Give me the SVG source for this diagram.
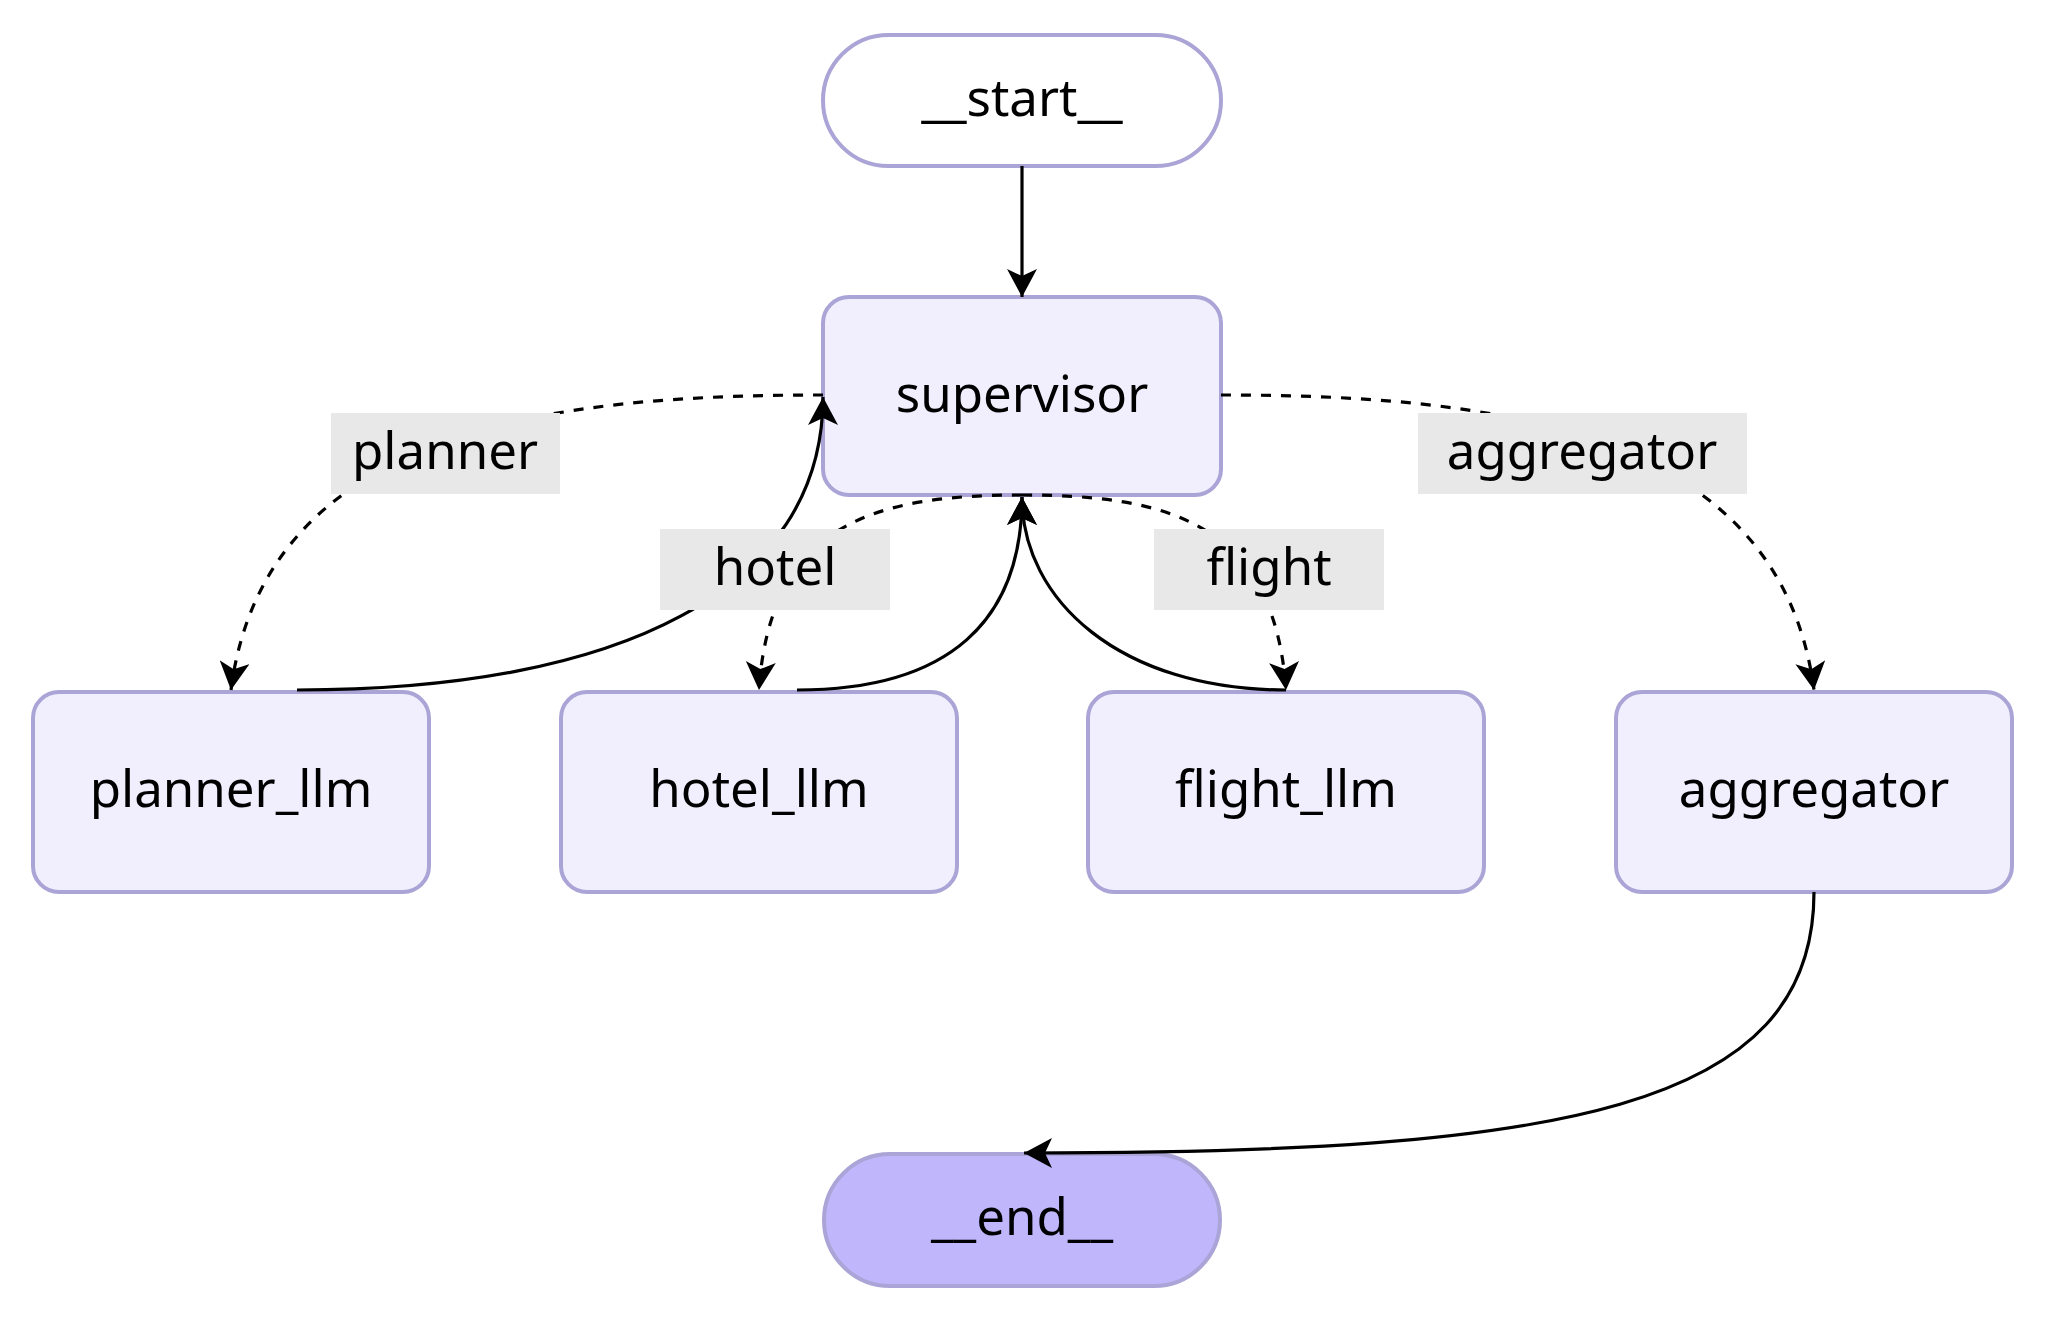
<svg xmlns="http://www.w3.org/2000/svg" width="2048" height="1320" viewBox="0 0 2048 1320">
<style>
.node rect{fill:#f1effd;stroke:#aba4d6;stroke-width:4}
.first rect{fill:#ffffff}
.last rect{fill:#bfb6fc}
text{font-family:"Noto Sans","Open Sans","DejaVu Sans",sans-serif;font-size:51px;fill:#000;text-anchor:middle}
.edge{fill:none;stroke:#000;stroke-width:3.2}
.dash{stroke-dasharray:10 10}
.lbl rect{fill:#e8e8e8}
</style>
<defs>
<marker id="arr" viewBox="0 0 10 10" refX="10" refY="5" markerUnits="userSpaceOnUse" markerWidth="28" markerHeight="30" orient="auto" preserveAspectRatio="none">
<path d="M0,0 L10,5 L0,10 L2.5,5 z" fill="#000"/>
</marker>
</defs>
<rect width="2048" height="1320" fill="#ffffff"/>
<g id="start" class="node first"><rect x="823" y="35" width="398" height="131" rx="65.5"/><text x="1022" y="116">__start__</text></g>
<g id="supervisor" class="node"><rect x="823" y="297" width="398" height="198" rx="26"/><text x="1022" y="412">supervisor</text></g>
<g id="planner_llm" class="node"><rect x="33" y="692" width="396" height="200" rx="26"/><text x="231" y="807">planner_llm</text></g>
<g id="hotel_llm" class="node"><rect x="561" y="692" width="396" height="200" rx="26"/><text x="759" y="807">hotel_llm</text></g>
<g id="flight_llm" class="node"><rect x="1088" y="692" width="396" height="200" rx="26"/><text x="1286" y="807">flight_llm</text></g>
<g id="aggregator" class="node"><rect x="1616" y="692" width="396" height="200" rx="26"/><text x="1814" y="807">aggregator</text></g>
<g id="end" class="node last"><rect x="824" y="1154" width="396" height="132" rx="66"/><text x="1022" y="1235">__end__</text></g>
<g id="connectors">
<path class="edge" d="M1022,166 L1022,297" marker-end="url(#arr)"/>
<path class="edge dash" d="M823,395 C560,395 265,425 231,690" marker-end="url(#arr)"/>
<path class="edge" d="M297,690 C620,690 823,590 823,397" marker-end="url(#arr)"/>
<path class="edge dash" d="M1022,495 C880,495 770,520 759,690" marker-end="url(#arr)"/>
<path class="edge" d="M797,690 C950,690 1022,620 1022,497" marker-end="url(#arr)"/>
<path class="edge dash" d="M1022,495 C1164,495 1274,520 1286,690" marker-end="url(#arr)"/>
<path class="edge" d="M1286,690 C1120,690 1022,600 1022,497" marker-end="url(#arr)"/>
<path class="edge dash" d="M1221,395 C1484,395 1779,425 1814,690" marker-end="url(#arr)"/>
<path class="edge" d="M1814,892 C1814,1110 1560,1153 1024,1153" marker-end="url(#arr)"/>
<g class="lbl" id="label-planner"><rect x="331" y="413" width="229" height="81"/><text x="445" y="469">planner</text></g>
<g class="lbl" id="label-hotel"><rect x="660" y="529" width="230" height="81"/><text x="775" y="585">hotel</text></g>
<g class="lbl" id="label-flight"><rect x="1154" y="529" width="230" height="81"/><text x="1269" y="585">flight</text></g>
<g class="lbl" id="label-aggregator"><rect x="1418" y="413" width="329" height="81"/><text x="1582" y="469">aggregator</text></g>
</g>
</svg>
